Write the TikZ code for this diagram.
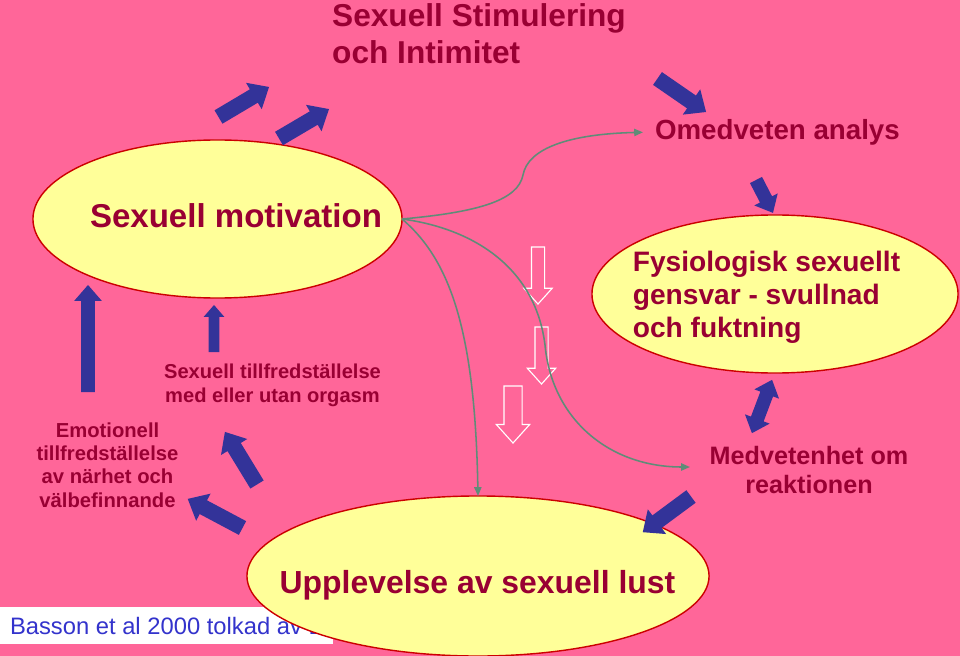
\documentclass[tikz,border=0pt]{standalone}
\usepackage{fontspec}
\setmainfont{Liberation Sans}
\usetikzlibrary{arrows.meta, shapes.geometric, shapes.arrows}
\definecolor{bgpink}{RGB}{255,102,153}
\definecolor{ellfill}{RGB}{255,255,153}
\definecolor{ellline}{RGB}{204,0,0}
\definecolor{txtred}{RGB}{153,0,51}
\definecolor{arrblue}{RGB}{51,51,153}
\definecolor{refblue}{RGB}{51,51,204}
\definecolor{curvegreen}{RGB}{95,140,120}
\newcommand*{\fsz}[2]{\fontsize{#1}{#2}\selectfont}

\begin{document}
\begin{tikzpicture}[x=0.025cm, y=-0.025cm,
    every node/.style={inner sep=0pt, outer sep=0pt},
    bubble/.style={ellipse, draw=ellline, line width=1pt, fill=ellfill},
    txt/.style={text=txtred, align=center},
    bluearrow/.style={single arrow, fill=arrblue, inner ysep=0.1875cm,
      single arrow head extend=0.19cm, single arrow tip angle=82, anchor=tail},
    hollow/.style={single arrow, draw=white, line width=0.8pt, inner ysep=0.15cm,
      single arrow head extend=0.19cm, single arrow tip angle=84, anchor=tail,
      rotate=-90, minimum height=1.425cm},
    flow/.style={draw=curvegreen, line width=1.1pt,
      -{Triangle[length=0.22cm, width=0.18cm]}}]
  \fill[bgpink] (0,0) rectangle (960,656);
  \useasboundingbox (0,0) rectangle (960,656);

  % reference box, partly hidden by the lower bubble
  \node[fill=white, anchor=north west, minimum width=8.325cm, minimum height=0.925cm] (refbox) at (0,607) {};
  \node[anchor=west, text=refblue, font=\fsz{16.9}{20}] (ref) at (10,626) {Basson et al 2000 tolkad av L};

  % bubbles
  \node[bubble, minimum width=9.225cm, minimum height=3.95cm] (motiv) at (217.5,219) {};
  \node[bubble, minimum width=9.15cm, minimum height=3.95cm] (fysio) at (775,294) {};
  \node[bubble, minimum width=11.55cm, minimum height=4cm] (upplev) at (478,576) {};

  % texts
  \node[txt, align=left, font=\bfseries\fsz{22.5}{26.3}] (title) at (479,33.5) {Sexuell Stimulering\\och Intimitet};
  \node[txt, font=\bfseries\fsz{23.5}{28}] (motiv_t) at (236,216) {Sexuell motivation};
  \node[txt, align=left, font=\bfseries\fsz{20}{23.5}] (fysio_t) at (766.5,297) {Fysiologisk sexuellt\\gensvar - svullnad\\och fuktning};
  \node[txt, font=\bfseries\fsz{22.7}{27}] (upplev_t) at (477.5,585) {Upplevelse av sexuell lust};
  \node[txt, anchor=west, font=\bfseries\fsz{19.7}{23}] (omed) at (655,132) {Omedveten analys};
  \node[txt, font=\bfseries\fsz{17.9}{21.3}] (medv) at (809,470) {Medvetenhet om\\reaktionen};
  \node[txt, font=\bfseries\fsz{14.4}{16.6}] (emot) at (107.5,465) {Emotionell\\tillfredställelse\\av närhet och\\välbefinnande};
  \node[txt, font=\bfseries\fsz{14.3}{17}] (tillf) at (272.5,385) {Sexuell tillfredställelse\\med eller utan orgasm};

  % blue block arrows
  \node[bluearrow, rotate=90, minimum height=2.675cm, inner ysep=0.1625cm,
    single arrow head extend=0.175cm] (a_1) at (88,392) {};
  \node[bluearrow, rotate=90, minimum height=1.175cm, inner ysep=0.125cm,
    single arrow head extend=0.125cm] (a_2) at (214,352) {};
  \node[bluearrow, rotate=30.7, minimum height=1.47cm] (a_3) at (218.5,117) {};
  \node[bluearrow, rotate=30.5, minimum height=1.45cm] (a_4) at (279,138.5) {};
  \node[bluearrow, rotate=-34.6, minimum height=1.475cm] (a_5) at (657.5,78.5) {};
  \node[bluearrow, rotate=-62.7, minimum height=0.925cm, inner ysep=0.1625cm,
    single arrow head extend=0.16cm] (a_6) at (756,180) {};
  \node[double arrow, fill=arrblue, inner ysep=0.1625cm, double arrow head extend=0.16cm,
    double arrow tip angle=82, minimum height=1.425cm, rotate=69.3] (a_7) at (762,406.5) {};
  \node[bluearrow, rotate=216.5, minimum height=1.5cm] (a_8) at (691,496.5) {};
  \node[bluearrow, rotate=121.4, minimum height=1.54cm] (a_9) at (257,484.5) {};
  \node[bluearrow, rotate=152, minimum height=1.55cm] (a_10) at (242.5,528) {};

  % hollow arrows
  \node[hollow] (h_1) at (538,247) {};
  \node[hollow] (h_2) at (541.5,327) {};
  \node[hollow, inner ysep=0.2125cm] (h_3) at (513,386) {};

  % curves
  \coordinate (medv_in) at (690,467);
  \draw[flow, shorten >=0.3cm] (motiv.east) .. controls (480,212) and (518,200) .. (523,175)
    .. controls (528,148) and (570,134) .. (omed.west);
  \draw[flow] (motiv.east) .. controls (450,260) and (475,330) .. (upplev.north);
  \draw[flow] (motiv.east) .. controls (470,228) and (535,265) .. (545,345)
    .. controls (552,420) and (610,467) .. (medv_in);
\end{tikzpicture}
\end{document}
